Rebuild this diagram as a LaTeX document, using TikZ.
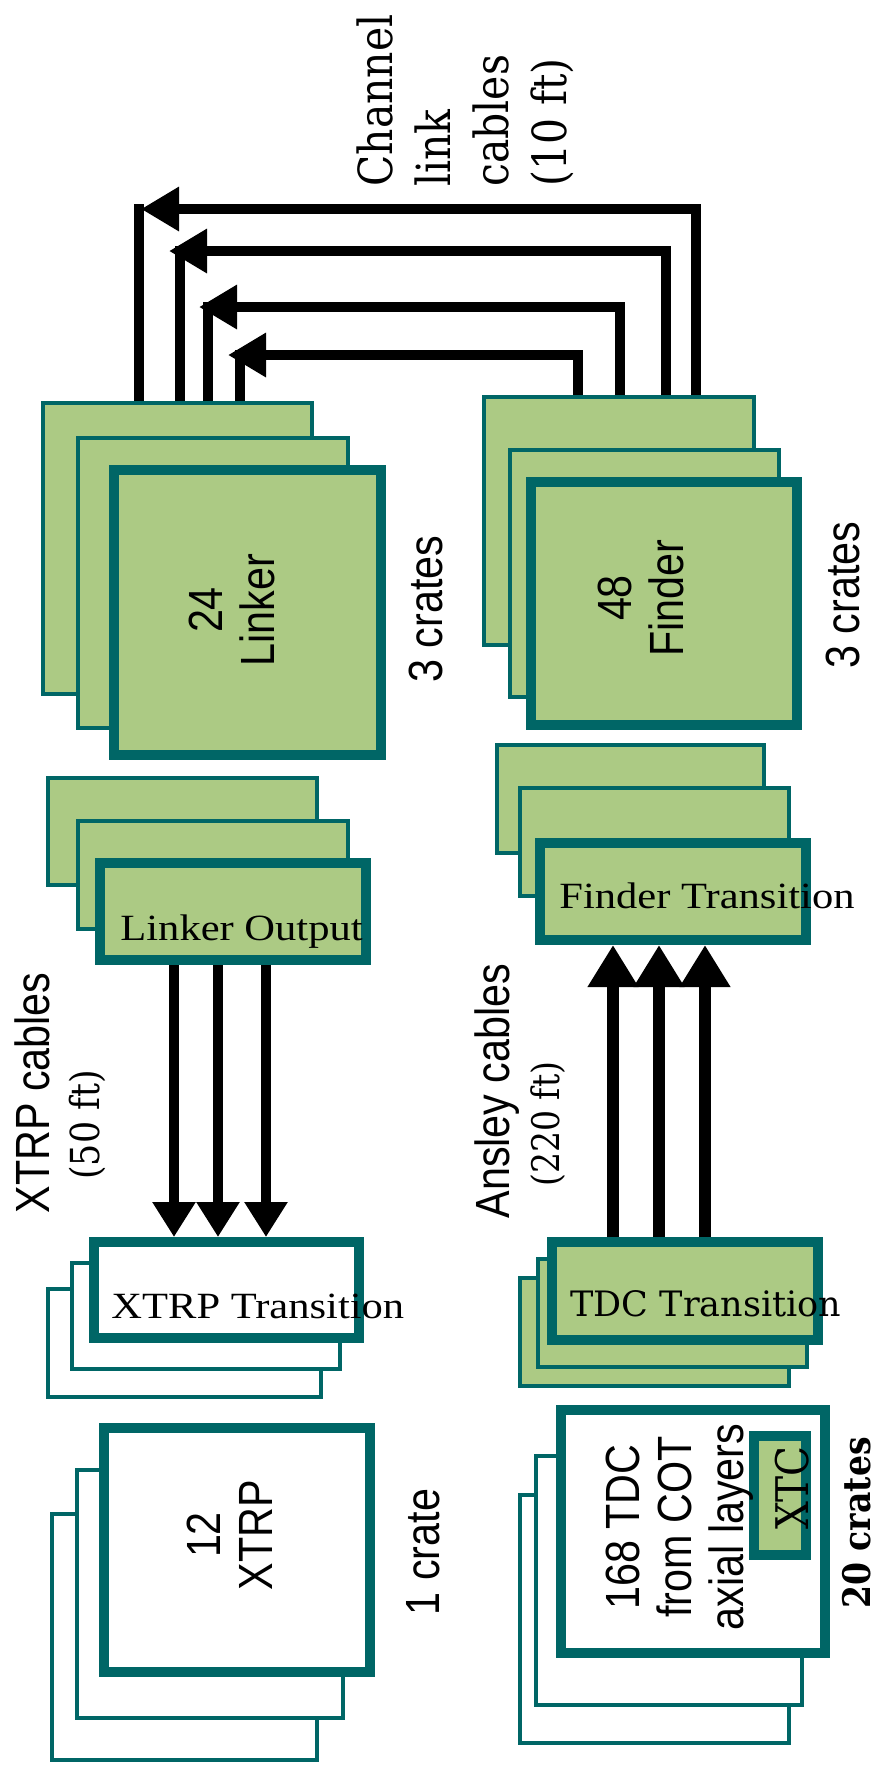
\documentclass[tikz,border=0pt]{standalone}
\usepackage{fontspec}
\usepackage{tikz}
\usetikzlibrary{arrows.meta}

\newfontfamily\helvfont[FakeStretch=0.86]{Liberation Sans}
\newfontfamily\schoolfont{DejaVu Serif}
\newfontfamily\schoolnarrow[FakeStretch=0.87]{DejaVu Serif}
\newfontfamily\timesfont[FakeStretch=1.15]{Liberation Serif}

\definecolor{crategreen}{HTML}{ACCA84}
\definecolor{crateteal}{HTML}{006666}

\tikzset{
    crate/.style={
        rectangle,
        draw=crateteal,
        fill=crategreen,
        line width=2pt,
        inner sep=0pt
    },
    frontcrate/.style={
        crate,
        line width=5pt
    },
    emptycrate/.style={
        fill=white
    },
    boardlabel/.style={
        rotate=90,
        align=center,
        inner sep=0pt,
        font=\helvfont\fontsize{24}{26}\selectfont
    },
    cardlabel/.style={
        anchor=base west,
        inner sep=0pt,
        font=\timesfont\fontsize{18.5}{22}\selectfont
    },
    cablelabel/.style={
        rotate=90,
        align=center,
        inner sep=0pt,
        font=\helvfont\fontsize{24}{25}\selectfont
    },
    chanarrow/.style={
        -{Triangle[length=19pt, width=21pt]},
        line width=5pt
    },
    chanwire/.style={
        line width=5pt
    },
    xtrparrow/.style={
        -{Triangle[length=17.5pt, width=20.5pt]},
        line width=5pt
    },
    ansleyarrow/.style={
        -{Triangle[length=21pt, width=24pt]},
        line width=6pt
    }
}

\begin{document}
\begin{tikzpicture}[x=0.5pt, y=-0.5pt]
\useasboundingbox (0,0) rectangle (880,1773);

% Linker crates
\node[crate, minimum width=134.5pt, minimum height=145.5pt] (lnk3) at (177.5,548.5) {};
\node[crate, minimum width=135pt, minimum height=145pt] (lnk2) at (213,583) {};
\node[frontcrate, minimum width=133.5pt, minimum height=142.5pt] (lnk1) at (247.5,612.5) {};
\node[boardlabel] (lnklabel) at (232,610) {24\\Linker};
\node[boardlabel] (lnkcount) at (426,609) {3 crates};

% Finder crates
\node[crate, minimum width=135pt, minimum height=124pt] (fnd3) at (619,521) {};
\node[crate, minimum width=134.5pt, minimum height=123.5pt] (fnd2) at (644.5,573.5) {};
\node[frontcrate, minimum width=133pt, minimum height=121.5pt] (fnd1) at (664,603.5) {};
\node[boardlabel] (fndlabel) at (641,598) {48\\Finder};
\node[boardlabel] (fndcount) at (843,595) {3 crates};

% Linker Output boards
\node[crate, minimum width=134.5pt, minimum height=53.5pt] (lout3) at (182.5,831.5) {};
\node[crate, minimum width=135pt, minimum height=54pt] (lout2) at (213,875) {};
\node[frontcrate, minimum width=133pt, minimum height=48.5pt] (lout1) at (233,911.5) {};
\node[cardlabel] (loutlabel) at (120,940) {Linker Output};

% Finder Transition boards
\node[crate, minimum width=133.5pt, minimum height=54pt] (ftr3) at (630.5,799) {};
\node[crate, minimum width=134.5pt, minimum height=54pt] (ftr2) at (654.5,842) {};
\node[frontcrate, minimum width=133pt, minimum height=48.5pt] (ftr1) at (673,891.5) {};
\node[cardlabel] (ftrlabel) at (559,908) {Finder Transition};

% XTRP Transition boards
\node[crate, emptycrate, minimum width=136.5pt, minimum height=54pt] (xtt3) at (184.5,1343) {};
\node[crate, emptycrate, minimum width=134pt, minimum height=53pt] (xtt2) at (206,1316) {};
\node[frontcrate, emptycrate, minimum width=132.5pt, minimum height=48pt] (xtt1) at (226.5,1290) {};
\node[cardlabel] (xttlabel) at (111,1318) {XTRP Transition};

% XTRP crate
\node[crate, emptycrate, minimum width=132.5pt, minimum height=123pt] (xtp3) at (184.5,1637) {};
\node[crate, emptycrate, minimum width=133pt, minimum height=124pt] (xtp2) at (210,1594) {};
\node[frontcrate, emptycrate, minimum width=133pt, minimum height=122pt] (xtp1) at (237,1550) {};
\node[boardlabel] (xtplabel) at (230,1535) {12\\XTRP};
\node[boardlabel] (xtpcount) at (423,1552) {1 crate};

% TDC Transition boards
\node[crate, minimum width=134.5pt, minimum height=54pt] (tdt3) at (654.5,1332) {};
\node[crate, minimum width=134.5pt, minimum height=54pt] (tdt2) at (672.5,1313) {};
\node[frontcrate, minimum width=133pt, minimum height=49pt] (tdt1) at (685,1291) {};
\node[cardlabel, font=\schoolfont\fontsize{17.5}{21}\selectfont] (tdtlabel) at (570,1316) {TDC Transition};

% TDC crates
\node[crate, emptycrate, minimum width=134.5pt, minimum height=124pt] (tdc3) at (654.5,1619) {};
\node[crate, emptycrate, minimum width=133pt, minimum height=124.5pt] (tdc2) at (669,1580.5) {};
\node[frontcrate, emptycrate, minimum width=132pt, minimum height=121.5pt] (tdc1) at (693,1531.5) {};
\node[frontcrate, minimum width=26pt, minimum height=59.5pt] (xtc) at (780,1495.5) {};
\node[boardlabel] (tdclabel) at (680,1527) {168 TDC\\from COT\\axial layers};
\node[boardlabel, font=\schoolnarrow\fontsize{22.5}{24}\selectfont] (xtclabel) at (792,1488) {XTC};
\node[boardlabel, font=\schoolnarrow\bfseries\fontsize{19}{21}\selectfont] (tdccount) at (857,1523) {20 crates};

% cable labels
\node[cablelabel, align=left, anchor=west, font=\schoolnarrow\fontsize{23.5}{29}\selectfont] (chanlabel) at (465,187) {Channel\\link\\cables\\(10 ft)};
\node[cablelabel] (xtrplabel) at (60.5,1093) {XTRP cables\\{\schoolnarrow\fontsize{20}{25}\selectfont (50 ft)}\hspace*{32pt}};
\node[cablelabel] (ansleylabel) at (520.5,1091) {Ansley cables\\{\schoolnarrow\fontsize{19}{25}\selectfont (220 ft)}\hspace*{33pt}};

% channel link cables, Finder -> Linker
\foreach \xr/\yt/\xt/\xl [count=\i] in {696/209/141/139, 666/251/169/180, 620/307/199/208, 578/355/228/240}{
    \coordinate (chtip\i) at (\xt,\yt);
    \coordinate (chbend\i) at (\xl,\yt);
    \draw[chanarrow] (\xr,0 |- fnd3.north) |- (chtip\i);
    \draw[chanwire] ([yshift=2.5pt]chbend\i) -- (chbend\i |- lnk3.north);
}

% XTRP cables
\foreach \x in {174,218,266}
    \draw[xtrparrow] (\x,0 |- lout1.south) -- (\x,0 |- xtt1.north);

% Ansley cables
\foreach \x in {613,659,705}
    \draw[ansleyarrow] (\x,0 |- tdt1.north) -- (\x,0 |- ftr1.south);
\end{tikzpicture}
\end{document}
